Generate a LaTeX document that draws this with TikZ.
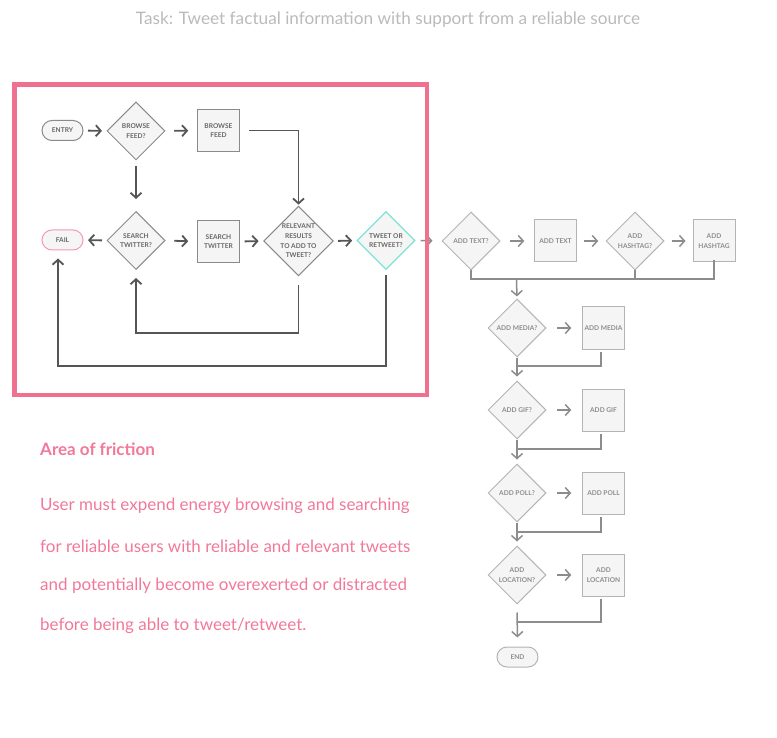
\documentclass[tikz,border=0pt]{standalone}
\usepackage{fontspec}
\setmainfont{Lato}
\usetikzlibrary{shapes,arrows.meta,positioning,calc}
\usepackage{xcolor}

\definecolor{friction}{HTML}{F0708F}
\definecolor{frictiontext}{HTML}{F2789A}
\definecolor{failedge}{HTML}{F49AAE}
\definecolor{tweetedge}{HTML}{7FE3D3}
\definecolor{boxfill}{HTML}{F5F5F5}
\definecolor{darkline}{HTML}{555555}
\definecolor{lightline}{HTML}{8C8C8C}
\definecolor{darkedge}{HTML}{8A8A8A}
\definecolor{lightedge}{HTML}{B4B4B4}

\tikzset{
    shape base/.style={fill=boxfill, line width=1pt, inner sep=0pt, align=center,
        font=\fontsize{6.6}{9.6}\selectfont\bfseries},
    decision/.style={shape base, diamond, aspect=1, minimum width=58pt, minimum height=58pt},
    process/.style={shape base, rectangle, minimum width=42pt, minimum height=42pt},
    terminal/.style={shape base, rectangle, rounded corners=10pt, minimum width=41pt, minimum height=20pt},
    left part/.style={draw=darkedge, text=darkline!90},
    right part/.style={draw=lightedge, text=lightline},
    flow/.style={draw=darkline, line width=1.8pt, -{Straight Barb[length=5pt,width=11pt]}},
    lightflow/.style={draw=lightline, line width=1.5pt, -{Straight Barb[length=5pt,width=11pt]}},
    plainline/.style={draw=lightline, line width=1.5pt},
    note/.style={anchor=west, inner sep=0pt, text=frictiontext, font=\fontsize{17}{20}\selectfont},
}

% short arrow centred between two anchors
\newcommand\hop[3][flow]{\draw[#1] ($(#2)!0.5!(#3)!7pt!(#2)$) -- ($(#2)!0.5!(#3)!7pt!(#3)$);}

\begin{document}
\begin{tikzpicture}[x=1pt, y=-1pt]
    \useasboundingbox (0,0) rectangle (777,738);

    % Title
    \node[text=black!27, font=\fontsize{17.2}{20}\selectfont] (title) at (388,20) {Task: Tweet factual information with support from a reliable source};

    % Area of friction: search loop
    \node[terminal, left part] (entry) at (62.5,130.5) {ENTRY};
    \node[decision, left part] (browseq) at (136,131) {BROWSE\\FEED?};
    \node[process, left part] (browse) at (218.5,130.5) {BROWSE\\FEED};
    \node[terminal, left part, draw=failedge] (fail) at (62.5,240) {FAIL};
    \node[decision, left part] (searchq) at (136,240.5) {SEARCH\\TWITTER?};
    \node[process, left part] (search) at (218.5,241.5) {SEARCH\\TWITTER};
    \node[decision, left part, minimum width=67pt, minimum height=67pt] (relevant) at (298.5,241) {RELEVANT\\RESULTS\\TO ADD TO\\TWEET?};
    \node[decision, left part, draw=tweetedge, line width=1.3pt] (tweet) at (386,240.5) {TWEET OR\\RETWEET?};

    \hop{entry.east}{browseq.west}
    \hop{browseq.east}{browse.west}
    \hop{searchq.west}{fail.east}
    \hop{searchq.east}{search.west}
    \hop{search.east}{relevant.west}
    \hop{relevant.east}{tweet.west}
    \draw[flow, shorten <=6pt, shorten >=12pt] (browseq.south) -- (searchq.north);
    \draw[flow, shorten <=9pt, shorten >=1pt] (browse.east) -| (relevant.north);
    \draw[flow, shorten <=9pt, shorten >=8pt] (relevant.south) -- ++(0,57) -| (searchq.south);
    \draw[flow, shorten <=5pt, shorten >=8pt] (tweet.south) -- ++(0,96) -| ([xshift=-4.5pt]fail.south);

    % Tweet composition
    \node[decision, right part] (textq) at (471,241) {ADD TEXT?};
    \node[process, right part] (text) at (555.5,241) {ADD TEXT};
    \node[decision, right part] (hashq) at (635,241) {ADD\\HASHTAG?};
    \node[process, right part] (hash) at (714,241) {ADD\\HASHTAG};
    \draw[lightflow, shorten <=5pt, shorten >=9pt] (tweet.east) -- (textq.west);
    \hop[lightflow]{textq.east}{text.west}
    \hop[lightflow]{text.east}{hashq.west}
    \hop[lightflow]{hashq.east}{hash.west}

    \foreach \y/\name/\ask/\act in {328/media/{ADD MEDIA?}/{ADD MEDIA},
            410/gif/{ADD GIF?}/{ADD GIF},
            493/poll/{ADD POLL?}/{ADD POLL},
            575/location/{ADD\\LOCATION?}/{ADD\\LOCATION}} {
        \node[decision, right part] (\name q) at (517,\y) {\ask};
        \node[process, right part] (\name) at (603.5,\y) {\act};
        \hop[lightflow]{\name q.east}{\name.west}
    }
    \node[terminal, right part] (end) at (517.5,657) {END};

    % joins
    \coordinate (join1) at (516.5,279);
    \draw[plainline] (textq.south) |- (hash.south |- join1) -- ([yshift=2pt]hash.south);
    \draw[plainline] (hashq.south) -- (hashq.south |- join1);
    \draw[lightflow, shorten >=2pt] (join1) -- (mediaq.north);
    \foreach \a/\b/\jy in {media/gif/366, gif/poll/449, poll/location/532} {
        \draw[lightflow, shorten >=4pt] (\a q.south) -- (\b q.north);
        \draw[plainline, shorten <=2.5pt] ([xshift=-2.5pt]\a.south) |- (517,\jy);
    }
    \draw[lightflow, shorten <=8pt, shorten >=9pt] (locationq.south) -- (end.north);
    \draw[plainline, shorten <=2.5pt] ([xshift=-2.5pt]location.south) |- (517,622);

    % friction frame (on top of the outgoing arrow)
    \draw[friction, line width=4.5pt] (14.5,84.5) rectangle (427,395);

    % Notes
    \node[note, font=\fontsize{17}{20}\selectfont\bfseries] (areatitle) at (40,449) {Area of friction};
    \foreach \y/\line in {506/{User must expend energy browsing and searching},
            546/{for reliable users with reliable and relevant tweets},
            586/{and potentially become overexerted or distracted},
            626/{before being able to tweet/retweet.}} {
        \node[note] at (40,\y) {\line};
    }
\end{tikzpicture}
\end{document}
